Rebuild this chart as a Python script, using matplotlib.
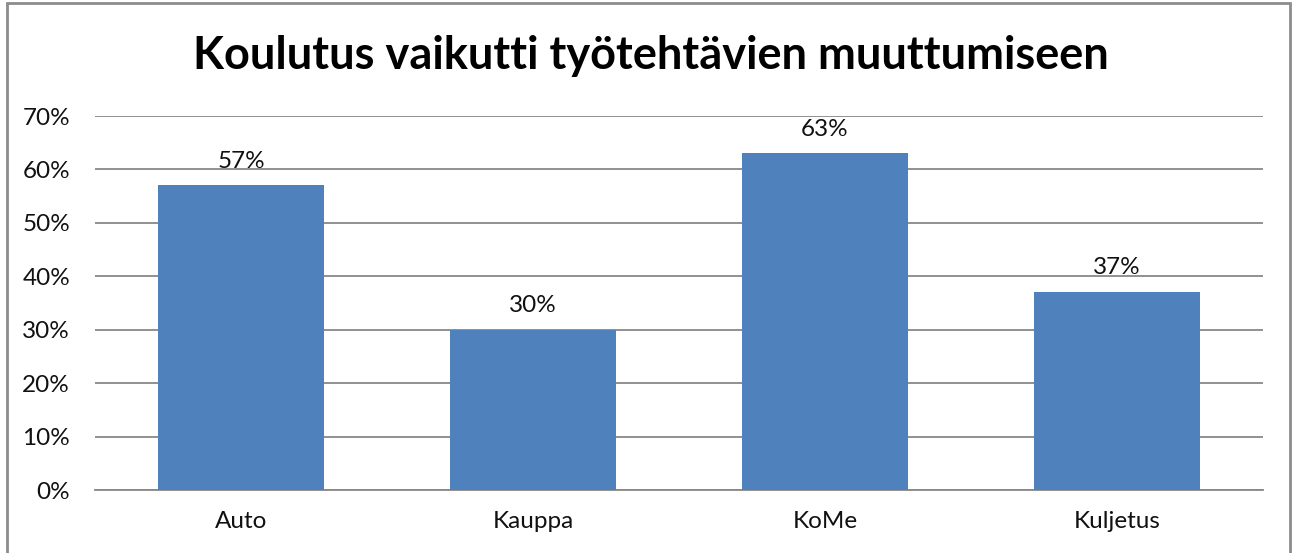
import matplotlib.pyplot as plt
from matplotlib.patches import Rectangle
from matplotlib.ticker import FuncFormatter

plt.rcParams['font.family'] = ['Lato', 'DejaVu Sans']

categories = ['Auto', 'Kauppa', 'KoMe', 'Kuljetus']
values = [57, 30, 63, 37]
bar_color = '#4F81BD'

fig = plt.figure(figsize=(12.93, 5.53), dpi=100)
ax = fig.add_axes([0.0735, 0.1139, 0.9033, 0.6763])

x = range(len(categories))
ax.bar(x, values, width=0.567, color=bar_color, zorder=3)
for xi, v in zip(x, values):
    ax.text(xi, v + 2.6, f'{v}%', ha='center', va='bottom', fontsize=17.5, color='#111111')

ax.set_xlim(-0.5, len(categories) - 0.5)
ax.set_ylim(0, 70)
ax.set_yticks(range(0, 71, 10))
ax.yaxis.set_major_formatter(FuncFormatter(lambda v, p: f'{v:.0f}%'))
ax.set_xticks(list(x))
ax.set_xticklabels(categories)
ax.tick_params(axis='both', length=0, labelsize=17.5, colors='#111111')
ax.tick_params(axis='y', pad=18)
ax.tick_params(axis='x', pad=15)
ax.grid(axis='y', color='#888888', linewidth=1.3, zorder=0)
for s in ['top', 'right', 'left']:
    ax.spines[s].set_visible(False)
ax.spines['bottom'].set_color('#888888')
ax.spines['bottom'].set_linewidth(1.3)

fig.text(0.503, 0.898, 'Koulutus vaikutti työtehtävien muuttumiseen',
         ha='center', va='center', fontsize=32.5, fontweight='bold')

fig.patches.append(Rectangle((7 / 1293, -0.05), 1283 / 1293, 1.05 - 2.5 / 553,
                             transform=fig.transFigure, fill=False,
                             edgecolor='#8c8c8c', linewidth=2, zorder=10))

fig.savefig('out.png', dpi=100)
